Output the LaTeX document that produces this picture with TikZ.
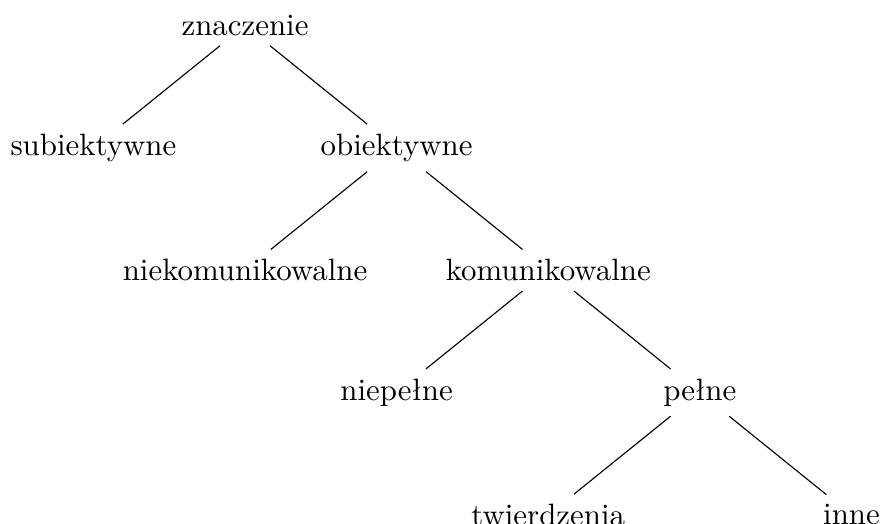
\documentclass[tikz,border=0pt]{standalone}
\usepackage{fontspec}
\tikzset{
    term/.style={font=\fontsize{10.95pt}{13.6pt}\selectfont, inner sep=0.3333em},
    branch/.style={line width=0.4pt}
}
\begin{document}
\begin{tikzpicture}[x=1.89cm,y=-15.25mm]
    \useasboundingbox (-1.616,-0.209) rectangle (4.188,4.072);
    \node[term] (zn) at (0,0) {znaczenie};
    \node[term] (subj) at (-1,1) {subiektywne};
    \node[term] (obj) at (1,1) {obiektywne};
    \node[term] (niekom) at (0,2) {niekomunikowalne};
    \node[term] (kom) at (2,2) {komunikowalne};
    \node[term] (niepel) at (1,3) {niepełne};
    \node[term] (pel) at (3,3) {pełne};
    \node[term] (twierdz) at (2,4) {twierdzenia};
    \node[term] (inne) at (4,4) {inne};
    \draw[branch] (zn) -- (subj);
    \draw[branch] (zn) -- (obj);
    \draw[branch] (obj) -- (niekom);
    \draw[branch] (obj) -- (kom);
    \draw[branch] (kom) -- (niepel);
    \draw[branch] (kom) -- (pel);
    \draw[branch] (pel) -- (twierdz);
    \draw[branch] (pel) -- (inne);
\end{tikzpicture}
\end{document}
